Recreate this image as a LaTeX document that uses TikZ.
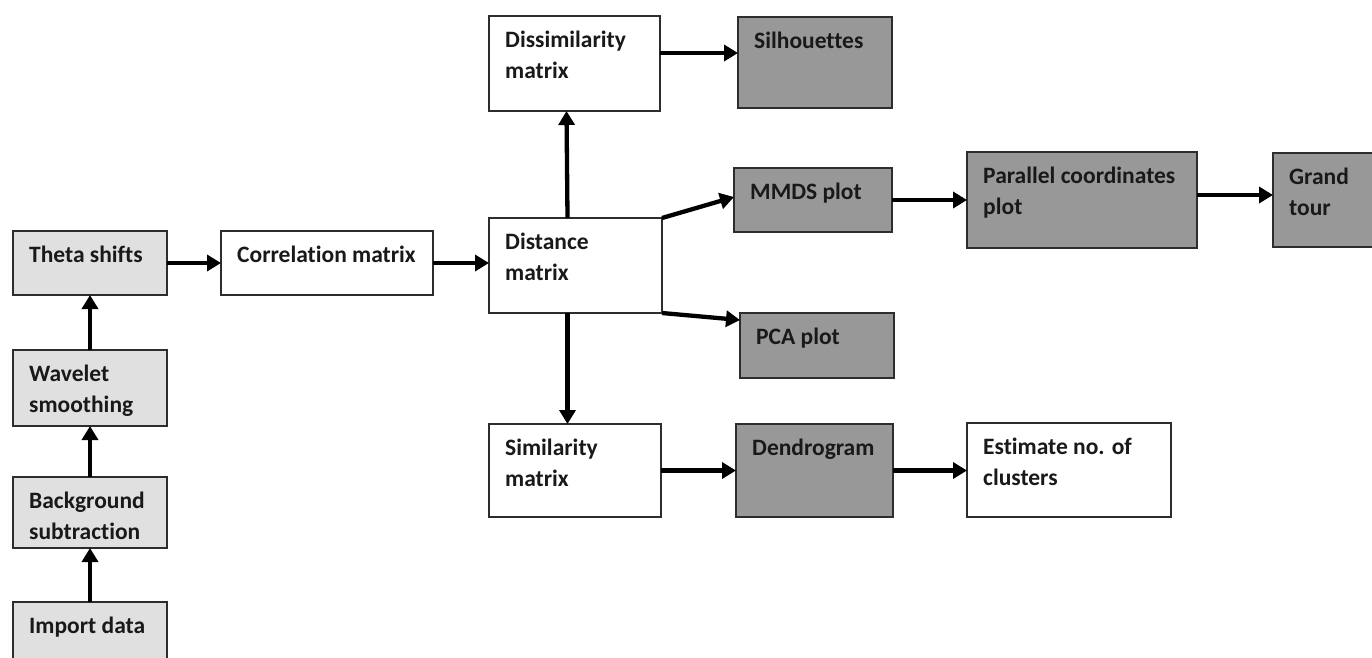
\documentclass[tikz,border=0pt]{standalone}
\usepackage{fontspec}
\setmainfont{Carlito}[Ligatures=NoCommon]
\usetikzlibrary{arrows.meta}
\definecolor{lightfill}{RGB}{224,224,224}
\definecolor{darkfill}{RGB}{152,152,152}
\definecolor{edgecol}{RGB}{45,45,45}
\tikzset{
  boxbase/.style={draw=edgecol, line width=1.8pt, inner sep=0pt, outer sep=0pt, anchor=north west},
  whitebox/.style={boxbase, fill=white},
  lightbox/.style={boxbase, fill=lightfill},
  darkbox/.style={boxbase, fill=darkfill},
  lbl/.style={anchor=north west, inner sep=0pt, align=left, text=black!90,
    font=\fontsize{23.5}{31}\selectfont\bfseries},
  flow/.style={line width=4.3pt, -{Triangle[length=14pt,width=16pt]}}
}
\newcommand{\mybox}[7]{%
  \node[#6, minimum width=#4pt, minimum height=#5pt] (#1) at (#2,#3) {};
  \node[lbl] (#1-t) at ([xshift=16pt,yshift=-15pt]#1.north west) {\rule{0pt}{16pt}#7};
}
\begin{document}
\begin{tikzpicture}[x=1pt,y=-1pt]
\useasboundingbox (0,0) rectangle (1372,657);
\clip (0,0) rectangle (1372,657);
\fill[white] (0,0) rectangle (1372,657);

\mybox{imp}{13}{602}{154}{62}{lightbox}{Import data}
\mybox{bg}{13}{477}{154}{71}{lightbox}{Background\\subtraction}
\mybox{wav}{13}{350}{154}{76}{lightbox}{Wavelet\\smoothing}
\mybox{theta}{13}{231}{154}{64}{lightbox}{Theta shifts}
\mybox{corr}{221}{231}{212}{64}{whitebox}{Correlation matrix}
\mybox{diss}{489}{16}{171}{95}{whitebox}{Dissimilarity\\matrix}
\mybox{dist}{489}{218}{173}{95}{whitebox}{Distance\\matrix}
\mybox{sim}{489}{424}{172}{93}{whitebox}{Similarity\\matrix}
\mybox{silh}{738}{17}{154}{91}{darkbox}{Silhouettes}
\mybox{mmds}{734}{168}{158}{64}{darkbox}{MMDS plot}
\mybox{pca}{740}{313}{154}{65}{darkbox}{PCA plot}
\mybox{par}{967}{152}{230}{96}{darkbox}{Parallel coordinates\\plot}
\mybox{grand}{1273}{153}{112}{94}{darkbox}{Grand\\tour}
\mybox{dend}{736}{424}{157}{93}{darkbox}{Dendrogram}
\mybox{est}{967}{423}{204}{94}{whitebox}{Estimate no. of\\clusters}

% left column
\draw[flow] (imp.north) -- (bg.south);
\draw[flow] (bg.north) -- (wav.south);
\draw[flow] (wav.north) -- (theta.south);
\draw[flow] (theta.east) -- (corr.west);
\draw[flow] (corr.east) -- (corr.east -| dist.west);
% distance branches
\draw[flow] ([xshift=-8pt]dist.north) -- ([xshift=-8pt]diss.south);
\draw[flow] ([xshift=-8pt]dist.south) -- ([xshift=-8pt]dist.south |- sim.north);
\draw[flow] (dist.north east) -- ([yshift=-29pt]mmds.north west);
\draw[flow] (dist.south east) -- ([yshift=-7pt]pca.north west);
\draw[flow] ([yshift=-37pt]diss.north east) -- ([yshift=-37pt]diss.north east -| silh.west);
\draw[flow] (mmds.east) -- (mmds.east -| par.west);
\draw[flow] ([yshift=-43pt]par.north east) -- ([yshift=-43pt]par.north east -| grand.west);
\draw[flow] (sim.east) -- (sim.east -| dend.west);
\draw[flow] (dend.east) -- (dend.east -| est.west);
\end{tikzpicture}
\end{document}
